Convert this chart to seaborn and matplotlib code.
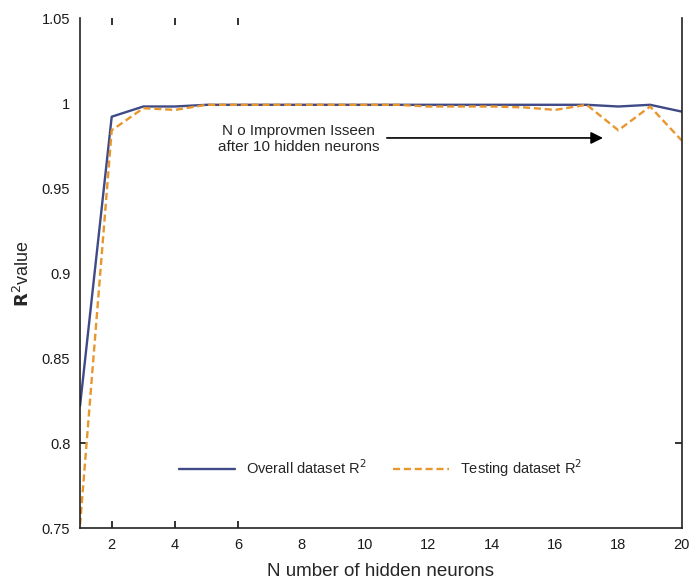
import pandas as pd
import numpy as np
import matplotlib
matplotlib.use("Agg")
import matplotlib.pyplot as plt
import seaborn as sns


# --- DATA ---
NEURONS = list(range(1, 21))
OVERALL_R2 = [0.822, 0.992, 0.998, 0.998, 0.999, 0.999, 0.999, 0.999, 0.999, 0.999,
              0.999, 0.999, 0.999, 0.999, 0.999, 0.999, 0.999, 0.998, 0.999, 0.995]
TESTING_R2 = [0.752, 0.984, 0.997, 0.996, 0.999, 0.999, 0.999, 0.999, 0.999, 0.999,
              0.999, 0.998, 0.998, 0.998, 0.9975, 0.996, 0.999, 0.984, 0.998, 0.978]
SERIES_NAMES = ["Overall dataset R$^2$", "Testing dataset R$^2$"]
X_TICKS = [2, 4, 6, 8, 10, 12, 14, 16, 18, 20]
Y_TICKS = [0.75, 0.8, 0.85, 0.9, 0.95, 1.0, 1.05]
Y_TICK_LABELS = ["0.75", "0.8", "0.85", "0.9", "0.95", "1", "1.05"]

BLUE = "#3f4a86"
ORANGE = "#e8962e"


def main():
    sns.set_style("white")
    plt.rcParams["font.family"] = ["Liberation Sans", "DejaVu Sans"]

    df = pd.DataFrame({
        "neurons": NEURONS * 2,
        "r2": OVERALL_R2 + TESTING_R2,
        "series": [SERIES_NAMES[0]] * len(NEURONS) + [SERIES_NAMES[1]] * len(NEURONS),
    })

    fig = plt.figure(figsize=(6.9, 5.83), dpi=100)
    ax = fig.add_axes([0.116, 0.094, 0.872, 0.875])

    sns.lineplot(
        data=df, x="neurons", y="r2", hue="series", style="series",
        palette={SERIES_NAMES[0]: BLUE, SERIES_NAMES[1]: ORANGE},
        dashes={SERIES_NAMES[0]: "", SERIES_NAMES[1]: (3, 1.6)},
        linewidth=1.7, ax=ax,
    )

    ax.set_xlim(1, 20)
    ax.set_ylim(0.75, 1.05)
    ax.set_xticks(X_TICKS)
    ax.set_yticks(Y_TICKS)
    ax.set_yticklabels(Y_TICK_LABELS)
    ax.tick_params(axis="both", which="major", length=0, labelsize=10.5, pad=7,
                   labelcolor="#1a1a1a")

    # only a few tick marks survive in the reference
    ax.xaxis.remove_overlapping_locs = False
    ax.yaxis.remove_overlapping_locs = False
    ax.set_xticks([2, 4, 6], minor=True)
    ax.set_yticks([0.8], minor=True)
    ax.tick_params(axis="x", which="minor", direction="in", length=5, width=1.3,
                   color="#222222", top=True, bottom=True)
    ax.tick_params(axis="y", which="minor", direction="in", length=5, width=1.3,
                   color="#222222", left=True, right=True)

    for side in ["left", "right", "bottom"]:
        ax.spines[side].set_color("#222222")
        ax.spines[side].set_linewidth(1.2)
    ax.spines["top"].set_visible(False)

    ax.set_xlabel("N umber of hidden neurons", fontsize=13.5, labelpad=8)
    ax.set_ylabel(r"$\mathbf{R}^{2}$value", fontsize=13, labelpad=6)

    ax.text(7.9, 0.979, "N o Improvmen Isseen\nafter 10 hidden neurons",
            ha="center", va="center", fontsize=11, linespacing=1.2)
    ax.annotate("", xy=(17.6, 0.9795), xytext=(10.6, 0.9795),
                arrowprops=dict(arrowstyle="-|>", color="black", lw=1.2,
                                mutation_scale=18))

    ax.legend(loc="lower center", bbox_to_anchor=(0.5, 0.07), ncol=2,
              frameon=False, fontsize=10.5, handlelength=3.8, columnspacing=1.8,
              title=None)

    fig.savefig("out.png", dpi=100)


if __name__ == "__main__":
    main()
